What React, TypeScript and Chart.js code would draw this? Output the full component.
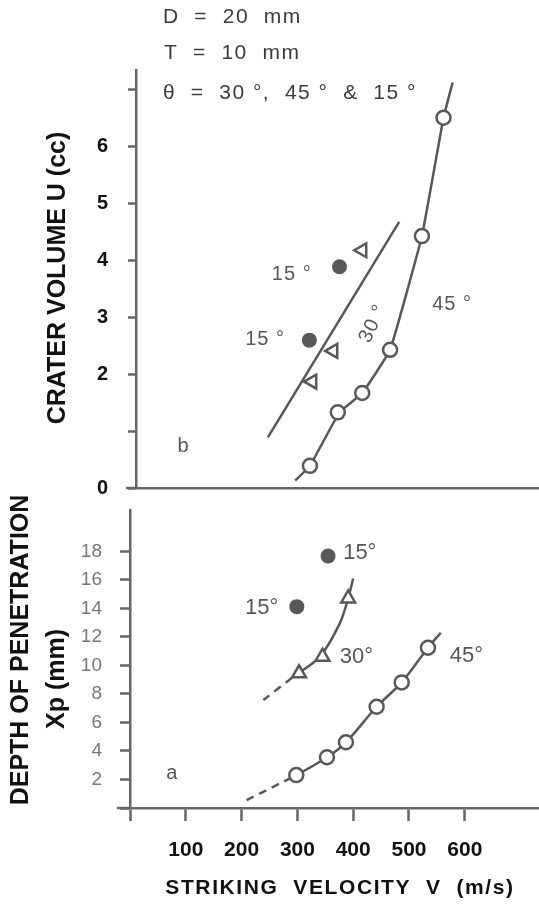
import React, { useEffect, useRef } from 'react';
import { Chart, registerables } from 'chart.js';

Chart.register(...registerables);

const FONT = "'Liberation Sans', Arial, Helvetica, sans-serif";
const INK = '#585858';
const AXIS = '#666666';

// ---------- Panel b : crater volume U (cc) vs striking velocity V (m/s)
const craterVel45 = [297, 346, 389, 438, 494, 532];
const craterU45 = [0.39, 1.33, 1.67, 2.43, 4.43, 6.51];
const craterVel30 = [301, 338, 389];
const craterU30 = [1.87, 2.41, 4.18];
const craterVel15 = [296, 349];
const craterU15 = [2.6, 3.89];
const craterFit45Vel = [271, 297, 349, 389, 438, 494, 532, 548];
const craterFit45U = [0.13, 0.39, 1.33, 1.67, 2.43, 4.43, 6.51, 7.13];
const craterFit30Vel = [223, 454];
const craterFit30U = [0.89, 4.68];
const craterTickValues = [0, 1, 2, 3, 4, 5, 6, 7];
const craterTickLabels = ['0', '', '2', '3', '4', '5', '6', ''];

// ---------- Panel a : depth of penetration Xp (mm) vs striking velocity V (m/s)
const depthVel45 = [298, 353, 387, 442, 487, 534];
const depthXp45 = [2.31, 3.56, 4.61, 7.1, 8.81, 11.24];
const depthVel30 = [303, 345, 391];
const depthXp30 = [9.45, 10.61, 14.7];
const depthVel15 = [299, 355];
const depthXp15 = [14.12, 17.67];
const depthFit45Vel = [209, 298, 353, 387, 442, 487, 534, 557];
const depthFit45Xp = [0.56, 2.31, 3.56, 4.61, 7.1, 8.81, 11.24, 12.29];
const depthFit30Vel = [239, 293, 340, 376, 391, 400];
const depthFit30Xp = [7.57, 9.21, 10.6, 12.95, 14.7, 16.1];
const depthTickValues = [0, 2, 4, 6, 8, 10, 12, 14, 16, 18, 20];
const depthTickLabels = ['', '2', '4', '6', '8', '10', '12', '14', '16', '18', ''];
const velocityTickValues = [0, 100, 200, 300, 400, 500, 600, 700];
const velocityTickLabels = ['', '100', '200', '300', '400', '500', '600', ''];

const zip = (xs: number[], ys: number[]) => xs.map((x, i) => ({ x, y: ys[i] }));
const lookup = (vals: number[], labels: string[]) => (v: any) => {
  const i = vals.findIndex((t) => Math.abs(t - Number(v)) < 1e-6);
  return i >= 0 ? labels[i] : '';
};

type Note = {
  text: string;
  x: number;
  y: number;
  px?: boolean;
  size: number;
  bold?: boolean;
  color: string;
  align?: CanvasTextAlign;
  rotate?: number;
  spacing?: number;
};

const notesPlugin = (id: string, notes: Note[]) => ({
  id,
  afterDatasetsDraw(chart: any) {
    const { ctx, scales } = chart;
    for (const n of notes) {
      const px = n.px ? n.x : scales.x.getPixelForValue(n.x);
      const py = n.px ? n.y : scales.y.getPixelForValue(n.y);
      ctx.save();
      ctx.translate(px, py);
      if (n.rotate) ctx.rotate((n.rotate * Math.PI) / 180);
      ctx.font = `${n.bold ? 'bold ' : ''}${n.size}px ${FONT}`;
      (ctx as any).letterSpacing = `${n.spacing ?? 0}px`;
      ctx.fillStyle = n.color;
      ctx.textAlign = n.align ?? 'left';
      ctx.textBaseline = 'middle';
      ctx.fillText(n.text, 0, 0);
      ctx.restore();
    }
  },
});

const extendPlugin = (id: string, leftExt: number) => ({
  id,
  afterDraw(chart: any) {
    const { ctx, chartArea } = chart;
    ctx.save();
    ctx.strokeStyle = AXIS;
    ctx.lineWidth = 2.5;
    ctx.beginPath();
    ctx.moveTo(chartArea.left - leftExt, chartArea.bottom);
    ctx.lineTo(chartArea.left, chartArea.bottom);
    ctx.stroke();
    ctx.restore();
  },
});

const topNotes: Note[] = [
  { text: 'D  =  20  mm', x: 163, y: 17, px: true, size: 21, color: '#3c3c3c', spacing: 1.5 },
  { text: 'T  =  10  mm', x: 164, y: 53, px: true, size: 21, color: '#3c3c3c', spacing: 1.5 },
  { text: 'θ  =  30 °,  45 °  &  15 °', x: 163, y: 93, px: true, size: 21, color: '#3c3c3c', spacing: 1.5 },
  { text: '15 °', x: 230, y: 3.76, size: 20, color: INK, spacing: 1 },
  { text: '15 °', x: 183, y: 2.62, size: 20, color: INK, spacing: 1 },
  { text: '30 °', x: 408, y: 2.89, size: 20, color: INK, spacing: 1, rotate: -65, align: 'center' },
  { text: '45 °', x: 512, y: 3.22, size: 20, color: INK, spacing: 1 },
  { text: 'b', x: 74, y: 0.73, size: 20, color: INK, align: 'center' },
  { text: 'CRATER VOLUME U (cc)', x: 58, y: 278, px: true, size: 25, bold: true, color: '#111', rotate: -90, align: 'center' },
];

const bottomNotes: Note[] = [
  { text: '15°', x: 382, y: 17.9, size: 22, color: INK },
  { text: '15°', x: 206, y: 14.0, size: 22, color: INK },
  { text: '30°', x: 376, y: 10.6, size: 22, color: INK },
  { text: '45°', x: 573, y: 10.66, size: 22, color: INK },
  { text: 'a', x: 75, y: 2.45, size: 20, color: INK, align: 'center' },
  { text: 'DEPTH OF PENETRATION', x: 21, y: 170, px: true, size: 25, bold: true, color: '#111', rotate: -90, align: 'center' },
  { text: 'Xp (mm)', x: 57, y: 199, px: true, size: 25, bold: true, color: '#111', rotate: -90, align: 'center' },
  { text: 'STRIKING  VELOCITY  V  (m/s)', x: 340, y: 408, px: true, size: 21, bold: true, color: '#111', align: 'center', spacing: 1.6 },
];

const markerSets = (
  v45: number[], y45: number[], v30: number[], y30: number[], v15: number[], y15: number[], triRot: number,
) => [
  {
    label: '45°', data: zip(v45, y45), pointStyle: 'circle', pointRadius: 7, pointBorderWidth: 2.5,
    pointBackgroundColor: '#fff', pointBorderColor: INK, order: 0,
  },
  {
    label: '30°', data: zip(v30, y30), pointStyle: 'triangle', rotation: triRot, pointRadius: 8, pointBorderWidth: 2.5,
    pointBackgroundColor: '#fff', pointBorderColor: INK, order: 0,
  },
  {
    label: '15°', data: zip(v15, y15), pointStyle: 'circle', pointRadius: 7.5, pointBorderWidth: 0,
    pointBackgroundColor: INK, pointBorderColor: INK, order: 0,
  },
];

const lineSet = (vs: number[], ys: number[], tension: number, dashFirst: boolean) => ({
  label: 'fit', data: zip(vs, ys), showLine: true, pointRadius: 0, borderColor: INK, borderWidth: 2.5,
  tension, order: 5,
  segment: dashFirst ? { borderDash: (c: any) => (c.p0DataIndex === 0 ? [8, 6] : undefined) } : undefined,
});

function topConfig(): any {
  return {
    type: 'scatter',
    data: {
      datasets: [
        ...markerSets(craterVel45, craterU45, craterVel30, craterU30, craterVel15, craterU15, -90),
        lineSet(craterFit45Vel, craterFit45U, 0.1, false),
        lineSet(craterFit30Vel, craterFit30U, 0, false),
      ],
    },
    options: {
      animation: false, responsive: false, maintainAspectRatio: false,
      layout: { autoPadding: false, padding: { top: 70, bottom: 26, left: 0, right: 0 } },
      plugins: { legend: { display: false }, tooltip: { enabled: false } },
      scales: {
        x: {
          type: 'linear', min: -9, max: 700, position: 'bottom',
          ticks: { display: false, includeBounds: false },
          grid: { display: true, drawOnChartArea: false, drawTicks: false },
          border: { display: true, color: AXIS, width: 2.5 },
          afterFit: (s: any) => { s.height = 0; },
        },
        y: {
          type: 'linear', min: 0, max: 7.35, position: 'left',
          afterBuildTicks: (s: any) => { s.ticks = craterTickValues.map((value) => ({ value })); },
          ticks: {
            includeBounds: false, autoSkip: false, padding: 20, color: '#111',
            font: { family: FONT, size: 20, weight: 'bold' },
            callback: lookup(craterTickValues, craterTickLabels),
          },
          grid: { display: true, drawOnChartArea: false, drawTicks: true, tickLength: 8, tickWidth: 2.5, tickColor: AXIS },
          border: { display: true, color: AXIS, width: 2.5 },
          afterFit: (s: any) => { s.width = 136; },
        },
      },
    },
    plugins: [notesPlugin('topNotes', topNotes), extendPlugin('topExt', 10)],
  };
}

function bottomConfig(): any {
  return {
    type: 'scatter',
    data: {
      datasets: [
        ...markerSets(depthVel45, depthXp45, depthVel30, depthXp30, depthVel15, depthXp15, 0),
        lineSet(depthFit45Vel, depthFit45Xp, 0.3, true),
        lineSet(depthFit30Vel, depthFit30Xp, 0.3, true),
      ],
    },
    options: {
      animation: false, responsive: false, maintainAspectRatio: false,
      layout: { autoPadding: false, padding: { top: 30, bottom: 0, left: 0, right: 0 } },
      plugins: { legend: { display: false }, tooltip: { enabled: false } },
      scales: {
        x: {
          type: 'linear', min: 0, max: 733, position: 'bottom',
          afterBuildTicks: (s: any) => { s.ticks = velocityTickValues.map((value) => ({ value })); },
          ticks: {
            includeBounds: false, autoSkip: false, maxRotation: 0, padding: 17, color: '#111',
            font: { family: FONT, size: 21, weight: 'bold' },
            callback: lookup(velocityTickValues, velocityTickLabels),
          },
          grid: {
            display: true, drawOnChartArea: false, drawTicks: true, tickLength: 13, tickWidth: 2.5,
            tickColor: (c: any) => (c.tick && c.tick.value === 700 ? 'rgba(0,0,0,0)' : AXIS),
          },
          border: { display: true, color: AXIS, width: 2.5 },
          afterFit: (s: any) => { s.height = 96; },
        },
        y: {
          type: 'linear', min: 0, max: 20.9, position: 'left',
          afterBuildTicks: (s: any) => { s.ticks = depthTickValues.map((value) => ({ value })); },
          ticks: {
            includeBounds: false, autoSkip: false, padding: 18, color: '#777',
            font: { family: FONT, size: 19 },
            callback: lookup(depthTickValues, depthTickLabels),
          },
          grid: {
            display: true, drawOnChartArea: false, drawTicks: true, tickLength: 10, tickWidth: 2.5,
            tickColor: (c: any) => (c.tick && c.tick.value === 20 ? 'rgba(0,0,0,0)' : AXIS),
          },
          border: { display: true, color: AXIS, width: 2.5 },
          afterFit: (s: any) => { s.width = 130; },
        },
      },
    },
    plugins: [notesPlugin('bottomNotes', bottomNotes), extendPlugin('botExt', 13)],
  };
}

export default function App() {
  const topRef = useRef<HTMLCanvasElement>(null);
  const botRef = useRef<HTMLCanvasElement>(null);
  useEffect(() => {
    const top = new Chart(topRef.current as HTMLCanvasElement, topConfig());
    const bot = new Chart(botRef.current as HTMLCanvasElement, bottomConfig());
    return () => {
      top.destroy();
      bot.destroy();
    };
  }, []);
  return (
    <div style={{ position: 'absolute', left: 0, top: 0, width: 539, height: 904, background: '#fff' }}>
      <canvas ref={topRef} width={539} height={520}
        style={{ position: 'absolute', left: 0, top: 0, width: 539, height: 520 }} />
      <canvas ref={botRef} width={539} height={424}
        style={{ position: 'absolute', left: 0, top: 480, width: 539, height: 424 }} />
    </div>
  );
}
